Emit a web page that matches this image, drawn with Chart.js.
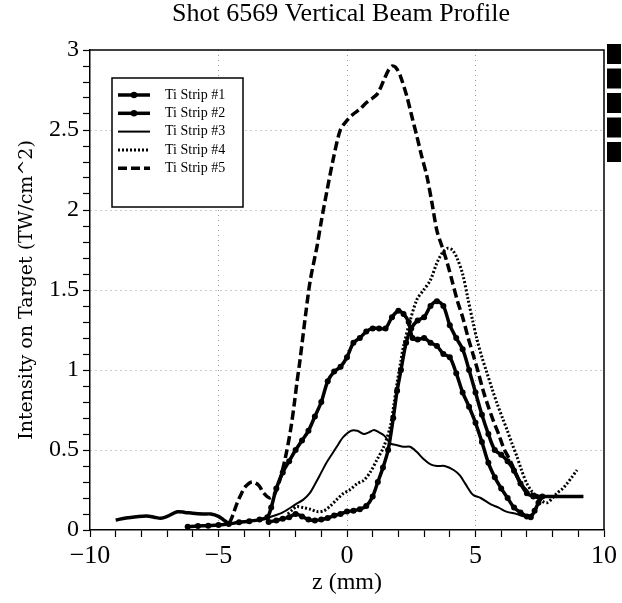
<!DOCTYPE html>
<html>
<head>
<meta charset="utf-8">
<script src="https://cdn.jsdelivr.net/npm/chart.js@4.4.0/dist/chart.umd.min.js"></script>
<style>
  body { margin: 0; background: #fff; }
  #wrap { width: 622px; height: 603px; }
</style>
</head>
<body>
<div id="wrap"><canvas id="profileChart" width="622" height="603"></canvas></div>
<script>
// Shot 6569 vertical beam profile
const stripNames = ['Ti Strip #1', 'Ti Strip #2', 'Ti Strip #3', 'Ti Strip #4', 'Ti Strip #5'];

const z1 = [-6.2,-5.8,-5.4,-5.0,-4.6,-4.2,-3.8,-3.4,-3.1,-2.95,-2.75,-2.5,-2.25,-2.0,-1.75,-1.5,-1.25,-1.0,-0.75,-0.5,-0.25,0,0.25,0.5,0.75,1.0,1.25,1.5,1.75,2.0,2.2,2.4,2.55,2.75,3.0,3.25,3.5,3.75,4.0,4.25,4.5,4.75,5.0,5.25,5.5,5.75,6.0,6.25,6.5,6.75,7.0,7.15,7.3,7.45,7.6];
const v1 = [0.02,0.025,0.027,0.032,0.037,0.048,0.055,0.065,0.08,0.14,0.26,0.36,0.43,0.5,0.56,0.62,0.71,0.8,0.93,0.99,1.02,1.08,1.17,1.2,1.24,1.26,1.26,1.26,1.33,1.37,1.35,1.3,1.2,1.19,1.2,1.17,1.15,1.1,1.08,0.98,0.86,0.77,0.67,0.55,0.42,0.33,0.26,0.2,0.14,0.11,0.085,0.08,0.12,0.17,0.21];

const z2 = [-3.05,-2.75,-2.5,-2.25,-2.0,-1.75,-1.5,-1.25,-1.0,-0.75,-0.5,-0.25,0,0.25,0.5,0.75,1.0,1.2,1.4,1.6,1.8,1.95,2.1,2.3,2.5,2.75,3.0,3.25,3.5,3.75,4.0,4.25,4.5,4.75,5.0,5.25,5.5,5.75,6.0,6.25,6.5,6.75,7.0,7.25,7.5];
const v2 = [0.05,0.06,0.07,0.08,0.1,0.085,0.065,0.06,0.065,0.075,0.09,0.1,0.115,0.12,0.13,0.15,0.21,0.3,0.39,0.5,0.7,0.87,1.0,1.17,1.26,1.31,1.33,1.4,1.43,1.4,1.28,1.2,1.13,1.0,0.86,0.72,0.6,0.5,0.47,0.43,0.37,0.29,0.23,0.21,0.2];

const z3 = [-3.0,-2.5,-2.0,-1.7,-1.45,-1.2,-1.0,-0.8,-0.6,-0.4,-0.15,0.15,0.4,0.65,0.85,1.05,1.25,1.45,1.7,1.95,2.2,2.45,2.7,3.0,3.25,3.5,3.8,4.15,4.4,4.6,4.9,5.2,5.6,5.9,6.2,6.6,6.9,7.2,7.4];
const v3 = [0.08,0.11,0.16,0.19,0.23,0.3,0.36,0.42,0.47,0.52,0.58,0.62,0.62,0.6,0.61,0.625,0.61,0.59,0.54,0.53,0.52,0.52,0.49,0.44,0.41,0.4,0.4,0.375,0.34,0.29,0.22,0.2,0.16,0.14,0.115,0.1,0.085,0.1,0.14];

const z4 = [-2.3,-2.1,-1.95,-1.7,-1.43,-1.17,-0.9,-0.65,-0.4,-0.13,0.1,0.4,0.65,0.9,1.17,1.43,1.69,1.82,1.95,2.1,2.2,2.46,2.72,2.98,3.24,3.5,3.7,3.9,4.1,4.28,4.5,4.7,4.9,5.06,5.25,5.45,5.65,5.84,6.05,6.23,6.42,6.61,6.8,7.0,7.2,7.39,7.6,7.78,8.0,8.17,8.4,8.56,8.75,8.95];
const v4 = [0.1,0.13,0.146,0.14,0.13,0.115,0.12,0.15,0.19,0.23,0.25,0.29,0.31,0.36,0.44,0.52,0.65,0.78,0.92,1.06,1.15,1.31,1.44,1.5,1.56,1.67,1.73,1.76,1.75,1.7,1.6,1.45,1.3,1.19,1.08,0.98,0.88,0.79,0.7,0.625,0.54,0.46,0.37,0.29,0.24,0.21,0.18,0.17,0.2,0.23,0.26,0.29,0.33,0.375];

const z5 = [-9.0,-8.6,-8.2,-7.8,-7.5,-7.25,-7.0,-6.6,-6.3,-6.0,-5.6,-5.3,-5.0,-4.8,-4.6,-4.45,-4.28,-4.1,-3.96,-3.7,-3.44,-3.24,-3.0,-2.8,-2.6,-2.4,-2.2,-2.05,-1.95,-1.83,-1.6,-1.43,-1.17,-1.0,-0.78,-0.52,-0.26,0,0.25,0.5,0.75,1.0,1.2,1.43,1.6,1.75,1.9,2.07,2.33,2.5,2.72,2.9,3.11,3.3,3.5,3.7,3.9,4.1,4.3,4.5,4.7,4.9,5.1,5.3,5.5,5.7,5.9,6.1,6.3,6.5,6.7,6.9,7.1,7.3,7.5,8.0,8.5,9.0,9.2];
const v5 = [0.0625,0.075,0.083,0.088,0.08,0.073,0.085,0.114,0.11,0.104,0.1,0.1,0.085,0.0625,0.045,0.09,0.167,0.23,0.27,0.3,0.28,0.23,0.2,0.23,0.32,0.45,0.62,0.79,0.92,1.06,1.36,1.56,1.77,1.93,2.12,2.33,2.5,2.56,2.6,2.63,2.67,2.7,2.73,2.81,2.87,2.9,2.89,2.84,2.71,2.6,2.46,2.34,2.21,2.05,1.87,1.77,1.67,1.55,1.43,1.33,1.21,1.1,0.99,0.87,0.77,0.68,0.6,0.51,0.45,0.38,0.31,0.26,0.23,0.22,0.21,0.21,0.21,0.21,0.21];

const xTicksMajor = 5;     // labelled every 5 mm
const yTicksMajor = 0.5;   // labelled every 0.5 TW/cm^2

function toPoints(zs, vs) {
    return zs.map((z, i) => ({ x: z, y: vs[i] }));
}

const serif = 'Liberation Serif';

// boxed legend in the upper left corner of the plot
const boxLegend = {
    id: 'boxLegend',
    afterDatasetsDraw(chart) {
        const { ctx, chartArea } = chart;
        const left = chartArea.left + 22;
        const top = chartArea.top + 28;
        ctx.save();
        ctx.fillStyle = '#fff';
        ctx.fillRect(left, top, 131, 129);
        ctx.strokeStyle = '#000';
        ctx.lineWidth = 1.5;
        ctx.strokeRect(left, top, 131, 129);
        chart.data.datasets.forEach((ds, i) => {
            const y = top + 17 + i * 18.3;
            ctx.setLineDash(ds.borderDash || []);
            ctx.lineWidth = ds.borderWidth;
            ctx.beginPath();
            ctx.moveTo(left + 6, y);
            ctx.lineTo(left + 38, y);
            ctx.stroke();
            ctx.setLineDash([]);
            if (ds.pointRadius) {
                ctx.fillStyle = '#000';
                ctx.beginPath();
                ctx.arc(left + 22, y, 3.2, 0, Math.PI * 2);
                ctx.fill();
            }
            ctx.fillStyle = '#000';
            ctx.font = '14px "' + serif + '"';
            ctx.textBaseline = 'middle';
            ctx.fillText(ds.label, left + 53, y);
        });
        ctx.restore();
    }
};

// title, top/right frame and the scanner marks at the right edge
const frameAndTitle = {
    id: 'frameAndTitle',
    afterDraw(chart) {
        const { ctx, chartArea } = chart;
        ctx.save();
        ctx.strokeStyle = '#000';
        ctx.lineWidth = 1.5;
        ctx.beginPath();
        ctx.moveTo(chartArea.left, chartArea.top);
        ctx.lineTo(chartArea.right, chartArea.top);
        ctx.lineTo(chartArea.right, chartArea.bottom);
        ctx.stroke();
        ctx.fillStyle = '#000';
        for (let i = 0; i < 5; i++) {
            ctx.fillRect(chartArea.right + 3, chartArea.top - 6 + i * 24.5, 14, 20);
        }
        ctx.font = '26px "' + serif + '"';
        ctx.textAlign = 'center';
        ctx.textBaseline = 'middle';
        ctx.fillText('Shot 6569 Vertical Beam Profile', 341, 14);
        ctx.restore();
    }
};

const styles = [
    { borderWidth: 3.5, borderDash: [], pointRadius: 3 },
    { borderWidth: 3.5, borderDash: [], pointRadius: 3 },
    { borderWidth: 2, borderDash: [], pointRadius: 0 },
    { borderWidth: 3, borderDash: [2, 2], pointRadius: 0 },
    { borderWidth: 3.5, borderDash: [9, 4], pointRadius: 0,
      // the flat tails of strip 5 print as a solid heavy trace
      segment: { borderDash: c => (c.p1.parsed.x <= -4.6 || c.p0.parsed.x >= 7.3) ? [] : undefined } }
];
const series = [[z1, v1], [z2, v2], [z3, v3], [z4, v4], [z5, v5]];

const datasets = series.map((s, i) => Object.assign({
    label: stripNames[i],
    data: toPoints(s[0], s[1]),
    borderColor: '#000',
    backgroundColor: '#000',
    pointBackgroundColor: '#000',
    pointBorderWidth: 0,
    tension: 0.3,
    fill: false
}, styles[i]));

function majorGrid(value, step, lo, hi) {
    const r = value / step;
    const isMajor = Math.abs(r - Math.round(r)) < 1e-6;
    return isMajor && value > lo + 1e-6 && value < hi - 1e-6;
}

document.addEventListener('DOMContentLoaded', function() {
    const ctx = document.getElementById('profileChart').getContext('2d');
    new Chart(ctx, {
        type: 'line',
        data: { datasets: datasets },
        options: {
            responsive: false,
            animation: false,
            layout: { padding: { top: 50, right: 18, left: 0, bottom: 0 } },
            plugins: {
                legend: { display: false },
                tooltip: { enabled: false }
            },
            scales: {
                x: {
                    type: 'linear',
                    min: -10,
                    max: 10,
                    ticks: {
                        stepSize: 1,
                        autoSkip: false,
                        maxRotation: 0,
                        padding: 4,
                        color: '#000',
                        font: { family: serif, size: 26 },
                        callback: v => majorGrid(v, xTicksMajor, -99, 99) ? String(v).replace('-', '\u2212') : ''
                    },
                    grid: {
                        color: c => (c.tick && majorGrid(c.tick.value, xTicksMajor, -10, 10)) ? '#999' : 'rgba(0,0,0,0)',
                        tickColor: '#000',
                        tickLength: 7,
                        tickWidth: 1.2
                    },
                    border: { color: '#000', width: 1.5, dash: [1, 4] },
                    title: {
                        display: true,
                        text: 'z (mm)',
                        color: '#000',
                        font: { family: serif, size: 24 },
                        padding: { top: 0, bottom: 6 }
                    },
                    afterFit: scale => { scale.height = 73; }
                },
                y: {
                    min: 0,
                    max: 3,
                    ticks: {
                        stepSize: 0.1,
                        autoSkip: false,
                        padding: 4,
                        color: '#000',
                        font: { family: serif, size: 24 },
                        callback: v => majorGrid(v, yTicksMajor, -99, 99) ? String(Math.round(v * 10) / 10) : ''
                    },
                    grid: {
                        color: c => (c.tick && majorGrid(c.tick.value, yTicksMajor, 0, 3)) ? '#999' : 'rgba(0,0,0,0)',
                        tickColor: '#000',
                        tickLength: 7,
                        tickWidth: 1.2
                    },
                    border: { color: '#000', width: 1.5, dash: [1, 4] },
                    title: {
                        display: true,
                        text: 'Intensity on Target (TW/cm^2)',
                        color: '#000',
                        font: { family: 'DejaVu Serif', size: 19 },
                        padding: { top: 16, bottom: 0 }
                    },
                    afterFit: scale => { scale.width = 90; }
                }
            }
        },
        plugins: [boxLegend, frameAndTitle]
    });
});
</script>
</body>
</html>
